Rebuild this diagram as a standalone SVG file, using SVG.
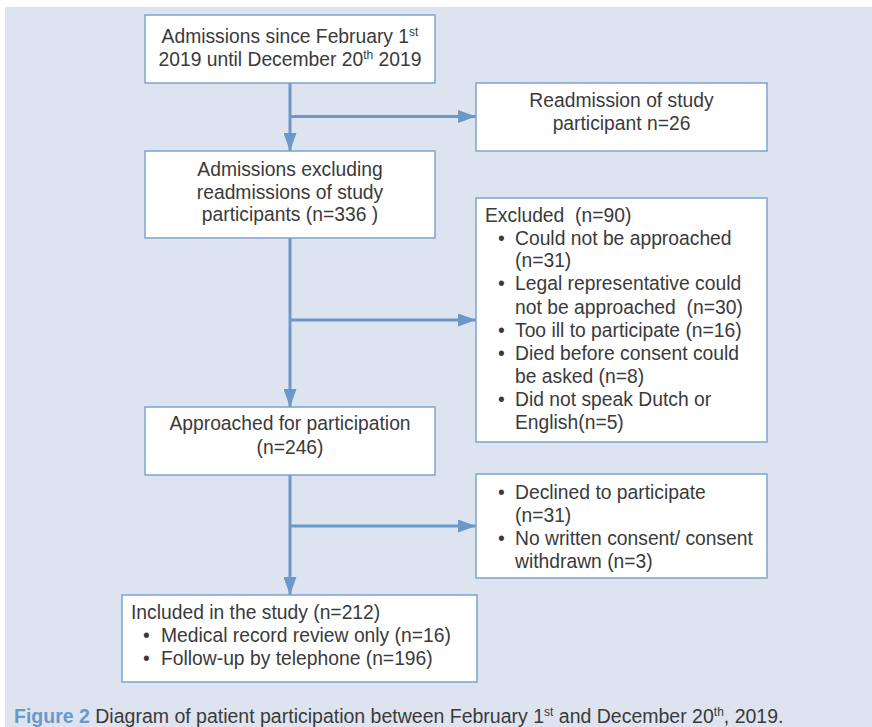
<svg xmlns="http://www.w3.org/2000/svg" width="872" height="727" viewBox="0 0 872 727">
  <style>
    .bg { fill: #dde4ef; }
    .box { fill: #ffffff; stroke: #7ca3d1; stroke-width: 1.5; }
    .t { font-family: "Liberation Sans", Arial, sans-serif; font-size: 19.3px; fill: #3a3a3a; }
    .c { text-anchor: middle; }
    .sup { font-size: 12px; }
    .link { fill: none; stroke: #6a98c9; stroke-width: 3; }
    .cap { font-family: "Liberation Sans", Arial, sans-serif; font-size: 19.5px; fill: #3a3a3a; }
    .fig { font-weight: bold; fill: #6a98c9; }
  </style>
  <defs>
    <marker id="arrow" viewBox="0 0 18 13" refX="18" refY="6.5" markerWidth="18" markerHeight="13" markerUnits="userSpaceOnUse" orient="auto">
      <path d="M0,0 L18,6.5 L0,13 Z" fill="#6a98c9"/>
    </marker>
  </defs>

  <rect class="bg" x="5" y="7" width="867" height="720"/>

  <!-- connectors -->
  <g id="connectors">
    <line class="link" x1="290" y1="83" x2="290" y2="151" marker-end="url(#arrow)"/>
    <line class="link" x1="290" y1="116.5" x2="476" y2="116.5" marker-end="url(#arrow)"/>
    <line class="link" x1="290" y1="238" x2="290" y2="407" marker-end="url(#arrow)"/>
    <line class="link" x1="290" y1="320" x2="476" y2="320" marker-end="url(#arrow)"/>
    <line class="link" x1="290" y1="475" x2="290" y2="595" marker-end="url(#arrow)"/>
    <line class="link" x1="290" y1="526" x2="476" y2="526" marker-end="url(#arrow)"/>
  </g>

  <g id="admissions">
    <rect class="box" x="145" y="15" width="290" height="68"/>
    <text class="t c" x="290" y="43">Admissions since February 1<tspan class="sup" dy="-7">st</tspan></text>
    <text class="t c" x="290" y="66">2019 until December 20<tspan class="sup" dy="-7">th</tspan><tspan dy="7"> 2019</tspan></text>
  </g>

  <g id="readmission">
    <rect class="box" x="476" y="83" width="291" height="68"/>
    <text class="t c" x="621.5" y="107">Readmission of study</text>
    <text class="t c" x="621.5" y="130">participant n=26</text>
  </g>

  <g id="eligible">
    <rect class="box" x="145" y="151" width="290" height="87"/>
    <text class="t c" x="290" y="176">Admissions excluding</text>
    <text class="t c" x="290" y="198.5">readmissions of study</text>
    <text class="t c" x="290" y="221">participants (n=336 )</text>
  </g>

  <g id="excluded">
    <rect class="box" x="476" y="198" width="291" height="244"/>
    <text class="t" x="485" y="221.5" xml:space="preserve">Excluded  (n=90)</text>
    <text class="t" x="498" y="244.5">•</text>
    <text class="t" x="515" y="244.5">Could not be approached</text>
    <text class="t" x="515" y="267">(n=31)</text>
    <text class="t" x="498" y="290">•</text>
    <text class="t" x="515" y="290">Legal representative could</text>
    <text class="t" x="515" y="313.5" xml:space="preserve">not be approached  (n=30)</text>
    <text class="t" x="498" y="336.5">•</text>
    <text class="t" x="515" y="336.5">Too ill to participate (n=16)</text>
    <text class="t" x="498" y="360">•</text>
    <text class="t" x="515" y="360">Died before consent could</text>
    <text class="t" x="515" y="383">be asked (n=8)</text>
    <text class="t" x="498" y="406">•</text>
    <text class="t" x="515" y="406">Did not speak Dutch or</text>
    <text class="t" x="515" y="429">English(n=5)</text>
  </g>

  <g id="approached">
    <rect class="box" x="145" y="407" width="290" height="68"/>
    <text class="t c" x="290" y="430">Approached for participation</text>
    <text class="t c" x="290" y="453.5">(n=246)</text>
  </g>

  <g id="declined">
    <rect class="box" x="476" y="474" width="291" height="104"/>
    <text class="t" x="498" y="498.5">•</text>
    <text class="t" x="515" y="498.5">Declined to participate</text>
    <text class="t" x="515" y="521.5">(n=31)</text>
    <text class="t" x="498" y="544.5">•</text>
    <text class="t" x="515" y="544.5">No written consent/ consent</text>
    <text class="t" x="515" y="567.5">withdrawn (n=3)</text>
  </g>

  <g id="included">
    <rect class="box" x="122" y="595" width="355" height="87"/>
    <text class="t" x="131" y="618.5">Included in the study (n=212)</text>
    <text class="t" x="143" y="641.5">•</text>
    <text class="t" x="161" y="641.5">Medical record review only (n=16)</text>
    <text class="t" x="143" y="664.5">•</text>
    <text class="t" x="161" y="664.5">Follow-up by telephone (n=196)</text>
  </g>

  <text class="cap" x="14" y="723"><tspan class="fig">Figure 2</tspan> Diagram of patient participation between February 1<tspan class="sup" dy="-7">st</tspan><tspan dy="7"> and December 20</tspan><tspan class="sup" dy="-7">th</tspan><tspan dy="7">, 2019.</tspan></text>
</svg>
